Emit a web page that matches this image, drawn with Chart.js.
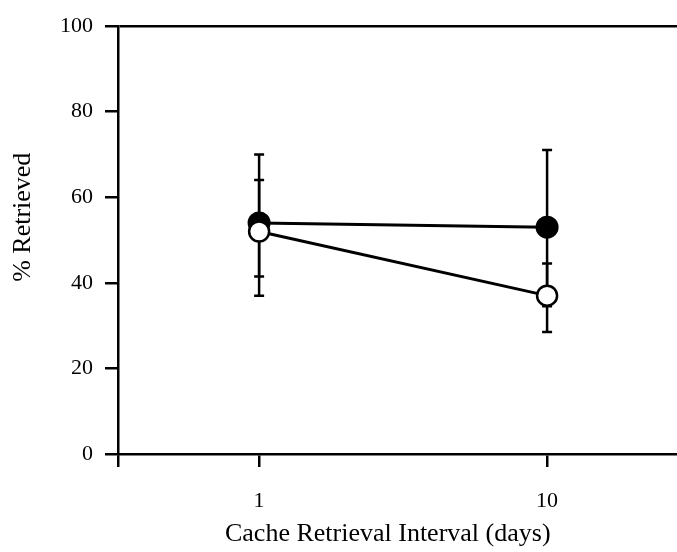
<!DOCTYPE html>
<html lang="en">
<head>
  <meta charset="UTF-8">
  <title>Cache Retrieval</title>
  <script src="https://cdn.jsdelivr.net/npm/chart.js"></script>
  <style>
    html, body { margin: 0; padding: 0; background: white; overflow: hidden; }
    #wrap { width: 677px; height: 552px; }
    canvas { display: block; }
  </style>
</head>
<body>
  <div id="wrap"><canvas id="chart"></canvas></div>

  <script>
    // retrieval interval in days
    const intervals = [1, 10];

    // open circles
    const openMeans = [52, 37];
    const openUpper = [64, 44.5];
    const openLower = [41.5, 28.5];

    // filled circles
    const filledMeans = [54, 53];
    const filledUpper = [70, 71];
    const filledLower = [37, 34.5];

    const yTicks = [0, 20, 40, 60, 80, 100];

    const serif = "'Liberation Serif', 'Times New Roman', serif";
    Chart.defaults.color = "black";

    // vertical error bars with small caps, drawn under the markers
    const errorBars = {
      id: "errorBars",
      beforeDatasetsDraw(chart) {
        const ctx = chart.ctx;
        const x = chart.scales.x, y = chart.scales.y;
        const sets = [[filledUpper, filledLower], [openUpper, openLower]];
        ctx.save();
        ctx.strokeStyle = "black";
        ctx.lineWidth = 2.5;
        sets.forEach(([up, lo]) => {
          intervals.forEach((d, i) => {
            const px = x.getPixelForValue(d);
            const top = y.getPixelForValue(up[i]);
            const bot = y.getPixelForValue(lo[i]);
            ctx.beginPath();
            ctx.moveTo(px, top); ctx.lineTo(px, bot);
            ctx.moveTo(px - 5, top); ctx.lineTo(px + 5, top);
            ctx.moveTo(px - 5, bot); ctx.lineTo(px + 5, bot);
            ctx.stroke();
          });
        });
        ctx.restore();
      }
    };

    const toPoints = (vals) => intervals.map((d, i) => ({ x: d, y: vals[i] }));

    new Chart(document.getElementById("chart"), {
      type: "line",
      data: {
        datasets: [
          {
            label: "open",
            data: toPoints(openMeans),
            borderColor: "black",
            borderWidth: 3,
            pointRadius: 10,
            pointBorderWidth: 2.5,
            pointBackgroundColor: "white",
            pointBorderColor: "black"
          },
          {
            label: "filled",
            data: toPoints(filledMeans),
            borderColor: "black",
            borderWidth: 3,
            pointRadius: 10.5,
            pointBorderWidth: 2,
            pointBackgroundColor: "black",
            pointBorderColor: "black"
          }
        ]
      },
      options: {
        responsive: true,
        maintainAspectRatio: false,
        animation: false,
        events: [],
        layout: { autoPadding: false, padding: { top: 26, right: 0, left: 0, bottom: 0 } },
        plugins: {
          legend: { display: false },
          tooltip: { enabled: false }
        },
        scales: {
          x: {
            type: "linear",
            min: -3.41,
            max: 14.06,
            afterFit: (s) => {
              s.height = 98;
              s.paddingLeft = 0;
              s.paddingRight = 0;
            },
            afterBuildTicks: (s) => {
              s.ticks = [s.min, ...intervals].map(v => ({ value: v }));
            },
            border: { display: true, color: "black", width: 2.5 },
            grid: {
              drawOnChartArea: false,
              tickLength: 13,
              tickColor: "black",
              lineWidth: 2.5
            },
            ticks: {
              padding: 21,
              font: { family: serif, size: 22 },
              callback: (v) => intervals.includes(v) ? String(v) : ""
            },
            title: {
              display: true,
              text: "Cache Retrieval Interval (days)   ",
              font: { family: serif, size: 26 },
              padding: { top: 0, bottom: 2 }
            }
          },
          y: {
            min: 0,
            max: 100,
            afterFit: (s) => { s.width = 118; },
            afterBuildTicks: (s) => {
              s.ticks = yTicks.map(v => ({ value: v }));
            },
            border: { display: true, color: "black", width: 2.5 },
            grid: {
              drawOnChartArea: true,
              color: (c) => c.tick && c.tick.value === 100 ? "black" : "rgba(0,0,0,0)",
              tickColor: "black",
              tickLength: 13,
              lineWidth: 2.5
            },
            ticks: {
              padding: 12,
              font: { family: serif, size: 22 }
            },
            title: {
              display: true,
              text: "       % Retrieved",
              font: { family: serif, size: 26 },
              padding: { top: 8, bottom: 0 }
            }
          }
        }
      },
      plugins: [errorBars]
    });
  </script>
</body>
</html>
